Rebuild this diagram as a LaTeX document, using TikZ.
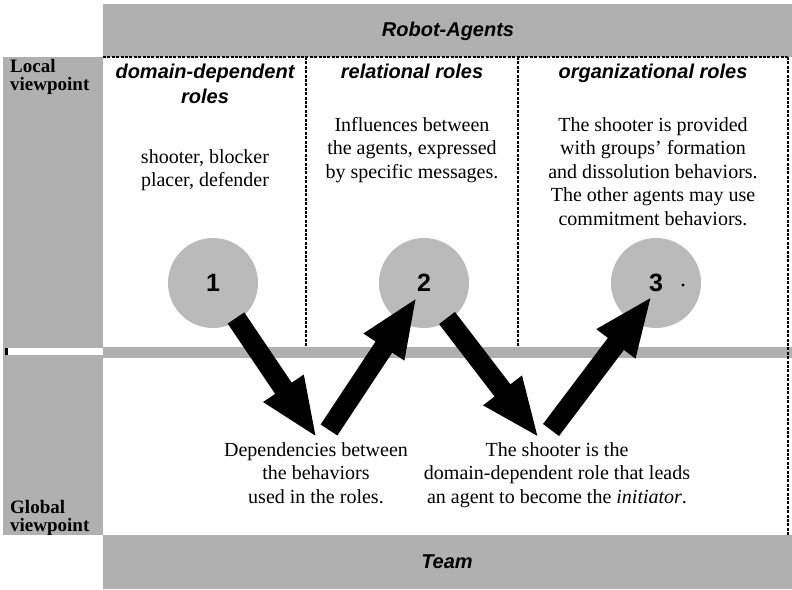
\documentclass[tikz,border=0pt]{standalone}
\usepackage{fontspec}
\setmainfont{Liberation Serif}
\newfontfamily\hsans{Liberation Sans}
\usetikzlibrary{arrows.meta}
\definecolor{halftone}{RGB}{176,176,176}
\definecolor{ballgray}{RGB}{186,186,186}
\tikzset{
  band/.style={fill=halftone, draw=none},
  sep/.style={line width=1.8pt, dash pattern=on 3pt off 1.4pt},
  hdr/.style={font=\hsans\bfseries\itshape\fontsize{20}{25}\selectfont, align=center, inner sep=0pt},
  body/.style={font=\fontsize{20}{23.5}\selectfont, align=center, inner sep=0pt},
  side/.style={font=\bfseries\fontsize{19}{18}\selectfont, align=left, inner sep=0pt, anchor=north west},
  ball/.style={circle, fill=ballgray, minimum size=90pt, inner sep=0pt, font=\hsans\bfseries\fontsize{25}{25}\selectfont},
  bigarrow/.style={line width=20pt, -{Triangle[length=60pt,width=44pt]}}
}
\begin{document}
\begin{tikzpicture}[x=1pt,y=-1pt]
\useasboundingbox (0,0) rectangle (792,589);
% backgrounds
\fill[band] (103,4) rectangle (792,57);
\fill[band] (3,57) rectangle (103,535);
\fill[band] (103,347) rectangle (792,358);
\fill[band] (103,535) rectangle (792,589);
\fill[white] (8,348) rectangle (103,355);
\fill[black] (5,348) rectangle (8,355);
% dashed separators
\draw[sep] (103,57) -- (789,57);
\draw[sep] (306,57) -- (306,347);
\draw[sep] (518,57) -- (518,347);
\draw[sep] (788,57) -- (788,535);
% band labels
\node[hdr] (robots) at (448,31) {Robot-Agents};
\node[hdr] (team) at (447,562) {Team};
\node[side] (local) at (10,59) {Local\\viewpoint};
\node[side] (global) at (10,500) {Global\\viewpoint};
% column headers
\node[hdr, anchor=north] (h1) at (205,64) {domain-dependent\\roles};
\node[hdr, anchor=north] (h2) at (412,64) {relational roles};
\node[hdr, anchor=north] (h3) at (653,64) {organizational roles};
% column texts
\node[body, anchor=north] (t1) at (205,149) {shooter, blocker\\placer, defender};
\node[body, anchor=north] (t2) at (412,117) {Influences between\\the agents, expressed\\by specific messages.};
\node[body, anchor=north] (t3) at (653,117) {The shooter is provided\\with groups' formation\\and dissolution behaviors.\\The other agents may use\\commitment behaviors.};
% circles
\node[ball] (c1) at (213,283) {1};
\node[ball] (c2) at (424,283) {2};
\node[ball] (c3) at (656,283) {3};
\fill (683,285) circle (1.6pt);
% bottom texts
\node[body, anchor=north] (b1) at (316,442) {Dependencies between\\the behaviors\\used in the roles.};
\node[body, anchor=north] (b2) at (557,442) {The shooter is the\\domain-dependent role that leads\\an agent to become the \textit{initiator}.};
% arrows
\coordinate (a1s) at (236,318);
\coordinate (a1e) at (317,438);
\coordinate (a2s) at (329,430);
\coordinate (a2e) at (417,297);
\coordinate (a3s) at (447,318);
\coordinate (a3e) at (539,438);
\coordinate (a4s) at (551,430);
\coordinate (a4e) at (652,296);
\draw[bigarrow] (a1s) -- (a1e);
\draw[bigarrow] (a2s) -- (a2e);
\draw[bigarrow] (a3s) -- (a3e);
\draw[bigarrow] (a4s) -- (a4e);
\end{tikzpicture}
\end{document}
